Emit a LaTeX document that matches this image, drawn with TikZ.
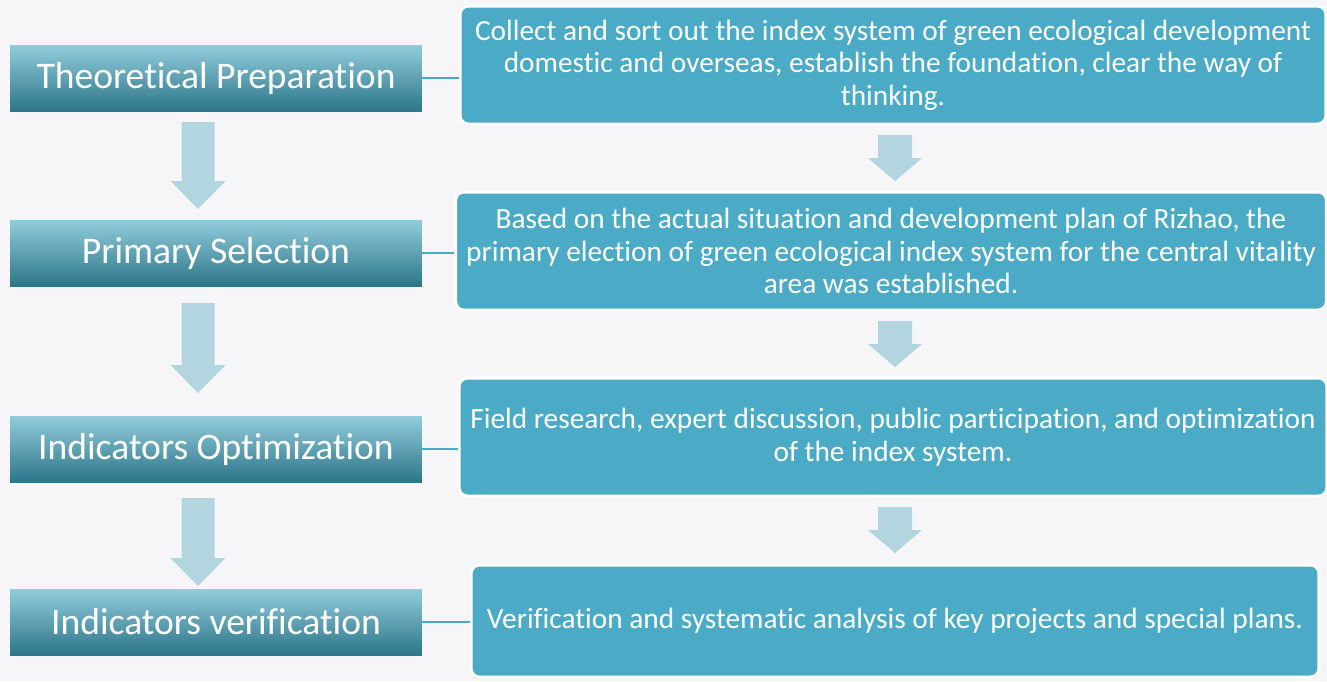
\documentclass[tikz,border=0pt]{standalone}
\usepackage{fontspec}
\setmainfont[RawFeature=-liga]{Carlito}
\usetikzlibrary{calc}
\definecolor{pagebg}{HTML}{F6F6F8}
\definecolor{boxblue}{HTML}{4BABC6}
\definecolor{gradtop}{HTML}{92CCDC}
\definecolor{gradmid}{HTML}{4FB0CA}
\definecolor{gradbot}{HTML}{2C7588}
\definecolor{arrowblue}{HTML}{B2D5E0}
\tikzset{
	stagebox/.style={rectangle, inner sep=0pt, minimum width=8.24cm, minimum height=1.32cm,
		top color=gradtop, middle color=gradmid, bottom color=gradbot, text=white,
		font=\fontsize{21.4}{25}\selectfont},
	taskbox/.style={rectangle, rounded corners=0.17cm, draw=white, line width=1.7pt, fill=boxblue,
		text=white, align=center, inner sep=0pt, font=\fontsize{16.7}{18.4}\selectfont},
	link/.style={boxblue, line width=1.2pt},
	arrowfill/.style={fill=arrowblue}
}
% down block arrow: (centre x, top y, tip y, half shaft, half head, head length)
\def\blockarrow(#1,#2,#3,#4,#5,#6){\fill[arrowfill] (#1-#4,#2) -- (#1+#4,#2) -- (#1+#4,#3-#6) -- (#1+#5,#3-#6) -- (#1,#3) -- (#1-#5,#3-#6) -- (#1-#4,#3-#6) -- cycle;}

\begin{document}
\begin{tikzpicture}[x=0.02cm, y=-0.02cm]
			%%%%% START %%%%%
			
			\fill[pagebg] (0,0) rectangle (1327,681);
			\useasboundingbox (0,0) rectangle (1327,681);
			
			% left column
			\node[stagebox] (prep) at (216,78) {Theoretical Preparation};
			\node[stagebox] (prim) at (216,253) {Primary Selection};
			\node[stagebox] (opti) at (216,449) {Indicators Optimization};
			\node[stagebox] (veri) at (216,622) {Indicators verification};
			
			\blockarrow(198,122,209,16.5,27.5,28)
			\blockarrow(198,303,393,16.5,27.5,28)
			\blockarrow(198,498,586,16.5,27.5,28)
			
			% right column
			\node[taskbox, minimum width=17.32cm, minimum height=2.36cm] (collect) at (893,65)
				{Collect and sort out the index system of green ecological development\\
				 domestic and overseas, establish the foundation, clear the way of\\ thinking.};
			\node[taskbox, minimum width=17.42cm, minimum height=2.36cm] (based) at (891,251)
				{Based on the actual situation and development plan of Rizhao, the\\
				 primary election of green ecological index system for the central vitality\\
				 area was established.};
			\node[taskbox, minimum width=17.36cm, minimum height=2.36cm] (field) at (893,437)
				{Field research, expert discussion, public participation, and optimization\\
				 of the index system.};
			\node[taskbox, minimum width=16.96cm, minimum height=2.24cm] (check) at (895,621)
				{Verification and systematic analysis of key projects and special plans.};
			
			\blockarrow(895,135,181,17,27,23)
			\blockarrow(895,321,367,17,27,23)
			\blockarrow(895,507,553,17,27,23)
			
			% links
			\draw[link] (prep.east) -- (prep.east -| collect.west);
			\draw[link] (prim.east) -- (prim.east -| based.west);
			\draw[link] (opti.east) -- (opti.east -| field.west);
			\draw[link] (veri.east) -- (veri.east -| check.west);
			
			%%%%% END %%%%%
\end{tikzpicture}
\end{document}
